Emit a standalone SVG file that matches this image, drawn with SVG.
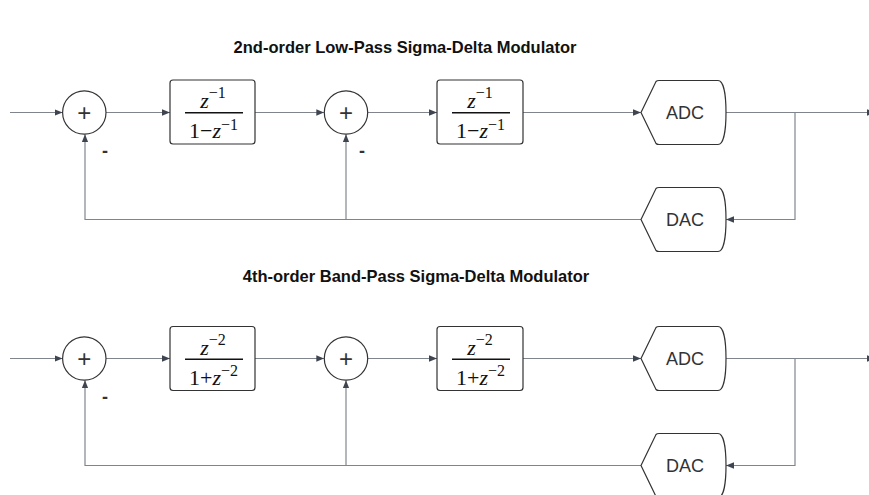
<svg xmlns="http://www.w3.org/2000/svg" width="869" height="495" viewBox="0 0 869 495">
  <style>
    .title { font-family: "Liberation Sans", Arial, sans-serif; font-weight: bold; font-size: 16.5px; fill: #111; text-anchor: middle; }
    .shape { fill: #fff; stroke: #333; stroke-width: 1.2; }
    .plus { font-family: "Liberation Sans", Arial, sans-serif; font-size: 24px; fill: #333; text-anchor: middle; }
    .minus { font-family: "Liberation Sans", Arial, sans-serif; font-size: 18px; font-weight: bold; fill: #333; text-anchor: middle; }
    .label { font-family: "Liberation Sans", Arial, sans-serif; font-size: 18px; fill: #333; text-anchor: middle; }
    .math { font-family: "Liberation Serif", "Times New Roman", serif; font-size: 22px; fill: #111; text-anchor: middle; }
    .sup { font-size: 16px; }
    .bar { stroke: #111; stroke-width: 1.6; }
    .wire { fill: none; stroke: #80858d; stroke-width: 1.2; }
    .arrow { marker-end: url(#head); }
  </style>
  <defs>
    <marker id="head" viewBox="0 0 10 10" refX="10" refY="5" markerWidth="8" markerHeight="8" markerUnits="userSpaceOnUse" orient="auto">
      <path d="M0,1 L10,5 L0,9 Z" fill="#3f4550"/>
    </marker>
    <!-- converter outline: pointed input side, rounded output side -->
    <path id="conv" d="M-44,0 L-29,-31 Q-28,-32 -26,-32 L33,-32 C39,-32 41,-16 41,0 C41,16 39,32 33,32 L-26,32 Q-28,32 -29,31 Z"/>
  </defs>

  <text class="title" x="405" y="53">2nd-order Low-Pass Sigma-Delta Modulator</text>
  <text class="title" x="416" y="282">4th-order Band-Pass Sigma-Delta Modulator</text>

  <!-- connectors -->
  <g id="connectors">
    <!-- low-pass loop -->
    <path class="wire arrow" d="M10,112.5 H62.6"/>
    <path class="wire arrow" d="M106,112.5 H170"/>
    <path class="wire arrow" d="M255,112.5 H324.3"/>
    <path class="wire arrow" d="M367.7,112.5 H437"/>
    <path class="wire arrow" d="M523,112.5 H641"/>
    <path class="wire arrow" d="M726,112.5 H875"/>
    <path class="wire arrow" d="M795,112.5 V219.5 H726"/>
    <path class="wire arrow" d="M641,219.5 H85 V134.2"/>
    <path class="wire arrow" d="M346,219.5 V134.2"/>
    <!-- band-pass loop -->
    <path class="wire arrow" d="M10,358.5 H62.6"/>
    <path class="wire arrow" d="M106,358.5 H170"/>
    <path class="wire arrow" d="M255,358.5 H324.3"/>
    <path class="wire arrow" d="M367.7,358.5 H437"/>
    <path class="wire arrow" d="M523,358.5 H641"/>
    <path class="wire arrow" d="M726,358.5 H875"/>
    <path class="wire arrow" d="M795,358.5 V465.5 H726"/>
    <path class="wire arrow" d="M641,465.5 H85 V380.2"/>
    <path class="wire arrow" d="M346,465.5 V380.2"/>
  </g>

  <!-- low-pass modulator -->
  <g id="lp-sum1">
    <circle class="shape" cx="84.3" cy="112.5" r="21.7"/>
    <text class="plus" x="84.3" y="120.5">+</text>
    <text class="minus" x="105" y="157">-</text>
  </g>
  <g id="lp-int1">
    <rect class="shape" x="170" y="80" width="85" height="64" rx="3"/>
    <text class="math" x="213" y="108.3"><tspan font-style="italic">z</tspan><tspan class="sup" dy="-10">−1</tspan></text>
    <line class="bar" x1="185" y1="112.7" x2="243" y2="112.7"/>
    <text class="math" x="213.5" y="138.3">1−<tspan font-style="italic">z</tspan><tspan class="sup" dy="-8.5">−1</tspan></text>
  </g>
  <g id="lp-sum2">
    <circle class="shape" cx="346" cy="112.5" r="21.7"/>
    <text class="plus" x="346" y="120.5">+</text>
    <text class="minus" x="362" y="157">-</text>
  </g>
  <g id="lp-int2">
    <rect class="shape" x="437" y="80" width="86" height="64" rx="3"/>
    <text class="math" x="480" y="108.3"><tspan font-style="italic">z</tspan><tspan class="sup" dy="-10">−1</tspan></text>
    <line class="bar" x1="452" y1="112.7" x2="510" y2="112.7"/>
    <text class="math" x="480.5" y="138.3">1−<tspan font-style="italic">z</tspan><tspan class="sup" dy="-8.5">−1</tspan></text>
  </g>
  <g id="lp-adc">
    <use href="#conv" class="shape" x="685" y="112.5"/>
    <text class="label" x="685" y="119">ADC</text>
  </g>
  <g id="lp-dac">
    <use href="#conv" class="shape" x="685" y="219.5"/>
    <text class="label" x="685" y="226">DAC</text>
  </g>

  <!-- band-pass modulator -->
  <g id="bp-sum1">
    <circle class="shape" cx="84.3" cy="358.5" r="21.7"/>
    <text class="plus" x="84.3" y="366.5">+</text>
    <text class="minus" x="105" y="403">-</text>
  </g>
  <g id="bp-res1">
    <rect class="shape" x="170" y="326.5" width="85" height="64" rx="3"/>
    <text class="math" x="213" y="354.8"><tspan font-style="italic">z</tspan><tspan class="sup" dy="-10">−2</tspan></text>
    <line class="bar" x1="185" y1="359.2" x2="243" y2="359.2"/>
    <text class="math" x="213.5" y="384.8">1+<tspan font-style="italic">z</tspan><tspan class="sup" dy="-8.5">−2</tspan></text>
  </g>
  <g id="bp-sum2">
    <circle class="shape" cx="346" cy="358.5" r="21.7"/>
    <text class="plus" x="346" y="366.5">+</text>
  </g>
  <g id="bp-res2">
    <rect class="shape" x="437" y="326.5" width="86" height="64" rx="3"/>
    <text class="math" x="480" y="354.8"><tspan font-style="italic">z</tspan><tspan class="sup" dy="-10">−2</tspan></text>
    <line class="bar" x1="452" y1="359.2" x2="510" y2="359.2"/>
    <text class="math" x="480.5" y="384.8">1+<tspan font-style="italic">z</tspan><tspan class="sup" dy="-8.5">−2</tspan></text>
  </g>
  <g id="bp-adc">
    <use href="#conv" class="shape" x="685" y="358.5"/>
    <text class="label" x="685" y="365">ADC</text>
  </g>
  <g id="bp-dac">
    <use href="#conv" class="shape" x="685" y="465.5"/>
    <text class="label" x="685" y="472">DAC</text>
  </g>
</svg>
